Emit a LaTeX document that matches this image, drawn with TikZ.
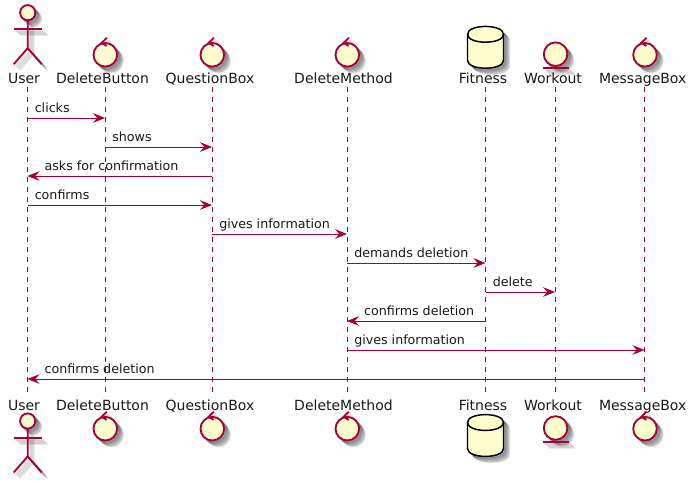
\documentclass[tikz,border=0pt]{standalone}
\usepackage{fontspec}
\setmainfont{DejaVu Sans}
\usetikzlibrary{arrows.meta,calc}
\definecolor{seqline}{HTML}{A80036}
\definecolor{seqfill}{HTML}{FEFECE}
\tikzset{
  icon/.style={draw=seqline,fill=seqfill,line width=1.4pt},
  iconline/.style={draw=seqline,line width=1.4pt,line join=miter},
  dbicon/.style={draw=black,fill=seqfill,line width=1.1pt},
  dbline/.style={draw=black,line width=1.1pt},
  shadowed/.style={
    icon/.style={draw=black,fill=black,line width=1.4pt,opacity=0.09},
    iconline/.style={draw=black,line width=1.4pt,opacity=0.09},
    dbicon/.style={draw=black,fill=black,line width=1.1pt,opacity=0.09},
    dbline/.style={draw=none}},
  lifeline/.style={draw=seqline,line width=0.75pt,dash pattern=on 3.75pt off 3.75pt},
  msg/.style={draw=seqline,line width=0.75pt,-{Stealth[length=9pt,width=7.2pt,inset=3.2pt]}},
  msgtext/.style={font=\fontsize{9.5pt}{11pt}\selectfont,anchor=base west,inner sep=0pt,text=black!90},
  parttext/.style={font=\fontsize{10.5pt}{12pt}\selectfont,anchor=base,inner sep=0pt,text=black!90},
}
% icon bodies, drawn round their own origin
\newcommand{\softshadow}[1]{\foreach \d in {2,3,4,5,6}{\begin{scope}[shift={(\d,\d)},shadowed] #1 \end{scope}}}
\newcommand{\ctrlbody}{%
  \path[icon] (0,0) circle (11.8);
  \path[iconline] (1.6,-17) -- (-3.6,-12) -- (1.4,-8.8);
}
\newcommand{\entitybody}{%
  \path[icon] (0,0) circle (11.8);
  \path[iconline] (-13,13.8) -- (13,13.8);
}
\newcommand{\actorbody}{%
  \path[icon] (0,0) circle (7.6);
  \path[iconline] (0,7.6) -- (0,35.5) -- (-14,51.5);
  \path[iconline] (0,35.5) -- (14,51.5);
  \path[iconline] (-14,16.6) -- (14,16.6);
}
\newcommand{\dbbody}{%
  \path[dbicon] (-18,-13) .. controls (-18,-23.5) and (18,-23.5) .. (18,-13)
    -- (18,13) .. controls (18,23.5) and (-18,23.5) .. (-18,13) -- cycle;
  \path[dbline] (-18,-13) .. controls (-18,-2.5) and (18,-2.5) .. (18,-13);
}
\newcommand{\placeicon}[3]{%
  \begin{scope}[shift={(#1,#2)}]
    \softshadow{#3}
    #3
  \end{scope}
}
\begin{document}
\begin{tikzpicture}[x=0.75pt,y=-0.75pt]  % 1 unit = 1 px, y downwards
  \path[use as bounding box,fill=white] (0,0) rectangle (697,483);
  % ---- lifelines, with one coordinate per message row
  \foreach \part/\x in {user/27.5,button/105,question/212,method/347,fitness/485.5,workout/555,message/644.5}{
    \coordinate (\part-top) at (\x,86.5);
    \coordinate (\part-end) at (\x,396.5);
    \draw[lifeline] (\part-top) -- (\part-end);
    \foreach \row in {118,147,176,205,234,263,292,321,350,379}
      \coordinate (\part-\row) at (\x,\row);
  }
  % ---- participant names
  \foreach \part/\x/\name in {user/24/User,button/102.5/DeleteButton,question/210/QuestionBox,method/343.5/DeleteMethod,fitness/483/Fitness,workout/553/Workout,message/642.7/MessageBox}{
    \node[parttext] (\part-head) at (\x,83) {\name};
    \node[parttext] (\part-foot) at (\x,410) {\name};
  }
  % ---- icons
  \placeicon{27.7}{12.7}{\actorbody}
  \placeicon{27.7}{421}{\actorbody}
  \placeicon{105.3}{54.8}{\ctrlbody}
  \placeicon{105.3}{428.7}{\ctrlbody}
  \placeicon{212.3}{54.8}{\ctrlbody}
  \placeicon{212.3}{428.7}{\ctrlbody}
  \placeicon{347.3}{54.8}{\ctrlbody}
  \placeicon{347.3}{428.7}{\ctrlbody}
  \placeicon{485.5}{47.3}{\dbbody}
  \placeicon{485.5}{435.5}{\dbbody}
  \placeicon{555.6}{54.2}{\entitybody}
  \placeicon{555.6}{428}{\entitybody}
  \placeicon{645}{54.8}{\ctrlbody}
  \placeicon{645}{428.7}{\ctrlbody}
  % ---- messages
  \foreach \a/\b/\row/\txt in {
      user/button/118/clicks,
      button/question/147/shows,
      question/user/176/asks for confirmation,
      user/question/205/confirms,
      question/method/234/gives information,
      method/fitness/263/demands deletion,
      fitness/workout/292/delete,
      fitness/method/321/confirms deletion,
      method/message/350/gives information,
      message/user/379/confirms deletion}{
    \draw[msg] (\a-\row) -- (\b-\row);
    % label starts after the left end, further out when the arrow points at it
    \path let \p1=(\a-\row), \p2=(\b-\row), \n1={ifthenelse(\x1<\x2,7,16.8)*0.75pt} in
      node[msgtext] (label-\row) at ($({min(\x1,\x2)+\n1},\y1)+(0,-5.6)$) {\txt};
  }
\end{tikzpicture}
\end{document}
